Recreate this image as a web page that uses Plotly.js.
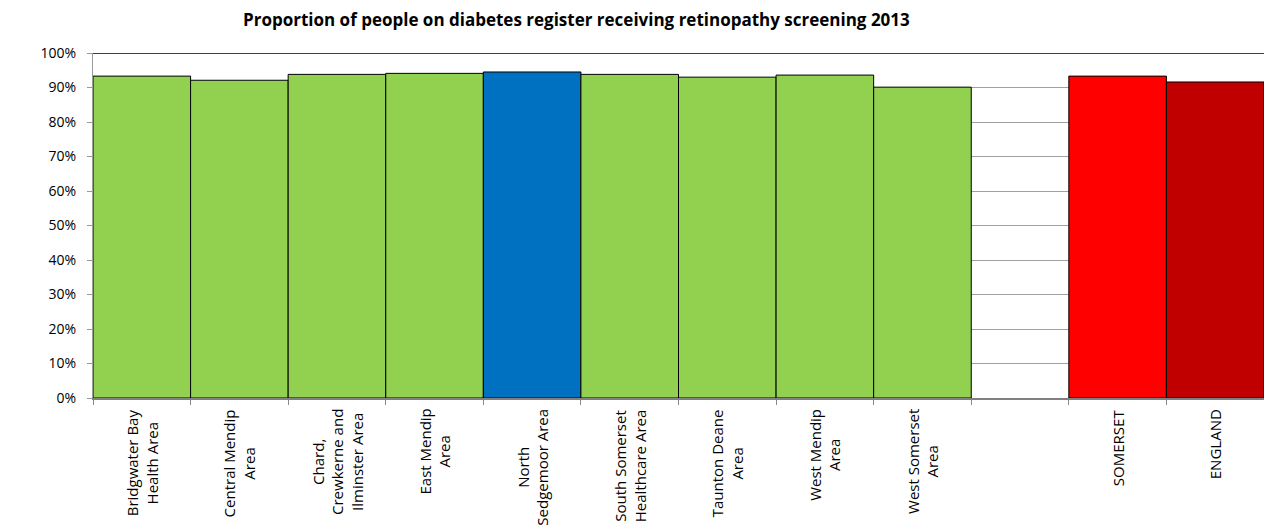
<!DOCTYPE html>
<html>
<head>
<meta charset="utf-8">
<script src="https://cdn.plot.ly/plotly-3.0.1.min.js"></script>
<style>html,body{margin:0;padding:0;background:#fff;}#chart{width:1264px;height:528px;}</style>
</head>
<body>
<div id="chart"></div>
<script>
const categories = [
  "Bridgwater Bay<br>Health Area",
  "Central Mendip<br>Area",
  "Chard,<br>Crewkerne and<br>Ilminster Area",
  "East Mendip<br>Area",
  "North<br>Sedgemoor Area",
  "South Somerset<br>Healthcare Area",
  "Taunton Deane<br>Area",
  "West Mendip<br>Area",
  "West Somerset<br>Area",
  " ",
  "SOMERSET",
  "ENGLAND"
];
const values = [0.933, 0.921, 0.938, 0.941, 0.945, 0.938, 0.930, 0.936, 0.901, null, 0.933, 0.916];
const barColors = ["#92D050","#92D050","#92D050","#92D050","#0070C0","#92D050","#92D050","#92D050","#92D050","#ffffff","#FF0000","#C00000"];
const yTickVals = [0,0.1,0.2,0.3,0.4,0.5,0.6,0.7,0.8,0.9,1.0];

const trace = {
  type: "bar",
  x: categories,
  y: values,
  marker: {color: barColors, line: {color: "#000000", width: 1}},
  hoverinfo: "x+y"
};

// category labels drawn as centred, rotated annotations (multi-line centred like the reference)
const labelAnnotations = categories.filter(c => c.trim() !== "").map(c => ({
  x: c, xref: "x",
  y: 0, yref: "paper",
  yanchor: "top", xanchor: "center",
  yshift: -9,
  text: c,
  textangle: -90,
  align: "center",
  showarrow: false,
  font: {family: "Open Sans, sans-serif", size: 15, color: "#000"}
}));

const layout = {
  width: 1264, height: 528,
  margin: {l: 93, r: 0, t: 53, b: 130},
  paper_bgcolor: "#fff", plot_bgcolor: "#fff",
  bargap: 0,
  showlegend: false,
  font: {family: "Open Sans, sans-serif", size: 14, color: "#000"},
  title: {
    text: "<b>Proportion of people on diabetes register receiving retinopathy screening 2013</b>",
    font: {family: "Open Sans, sans-serif", size: 17, color: "#000"},
    xref: "container", x: 0.456, xanchor: "center",
    yref: "container", y: 0.962, yanchor: "middle"
  },
  xaxis: {
    type: "category",
    tickson: "boundaries",
    ticks: "outside", ticklen: 5, tickcolor: "#888",
    showline: true, linecolor: "#808080", linewidth: 2,
    showgrid: false,
    showticklabels: false,
    fixedrange: true
  },
  yaxis: {
    range: [0, 1],
    tickvals: yTickVals,
    tickformat: ".0%",
    ticks: "outside", ticklen: 5, tickcolor: "#999",
    showline: true, linecolor: "#999", linewidth: 1,
    showgrid: true, gridcolor: "#a0a0a0", gridwidth: 1,
    zeroline: false,
    ticklabelstandoff: 8,
    tickfont: {family: "Open Sans, sans-serif", size: 14, color: "#000"},
    fixedrange: true
  },
  annotations: labelAnnotations,
  shapes: [{
    type: "line", xref: "paper", x0: 0, x1: 1, yref: "y", y0: 1, y1: 1,
    line: {color: "#000", width: 1.5}
  }]
};

Plotly.newPlot("chart", [trace], layout, {displayModeBar: false, staticPlot: true});
</script>
</body>
</html>
